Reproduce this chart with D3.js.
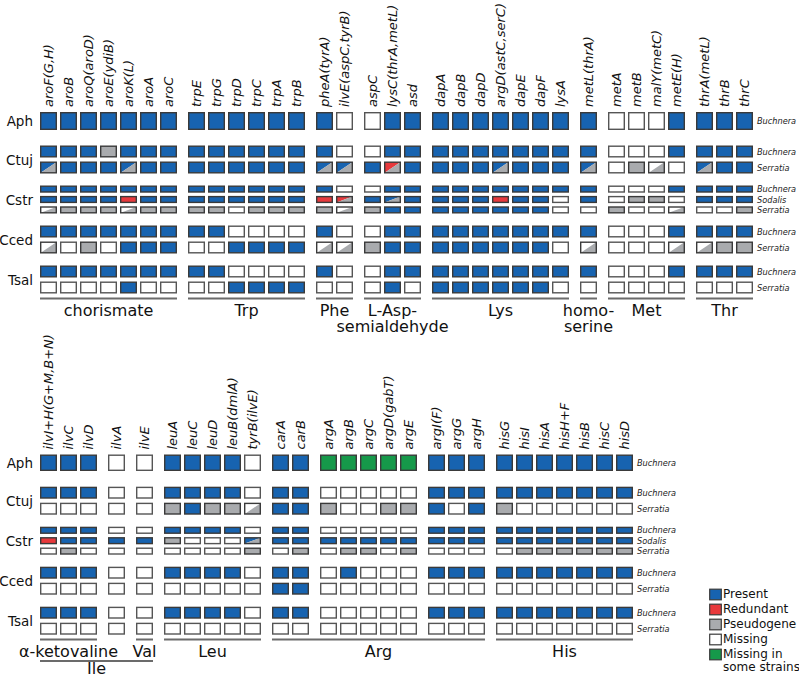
<!DOCTYPE html>
<html><head><meta charset="utf-8">
<script src="https://cdn.jsdelivr.net/npm/d3@7"></script>
<style>body{margin:0;background:#fff} text{font-family:"DejaVu Sans",sans-serif}</style>
</head><body><svg id="c" width="799" height="677"></svg>
<script>
// ---------- DATA ----------
const species = ["Aph","Ctuj","Cstr","Cced","Tsal"];
const partners = [["Buchnera"],["Buchnera","Serratia"],["Buchnera","Sodalis","Serratia"],["Buchnera","Serratia"],["Buchnera","Serratia"]];

const topBlocks = [
  ["aroF(G,H)","aroB","aroQ(aroD)","aroE(ydiB)","aroK(L)","aroA","aroC"],
  ["trpE","trpG","trpD","trpC","trpA","trpB"],
  ["pheA(tyrA)","ilvE(aspC,tyrB)"],
  ["aspC","lysC(thrA,metL)","asd"],
  ["dapA","dapB","dapD","argD(astC,serC)","dapE","dapF","lysA"],
  ["metL(thrA)"],
  ["metA","metB","malY(metC)","metE(H)"],
  ["thrA(metL)","thrB","thrC"]
];
const topPathways = [
  {label:["chorismate"], first:"aroF(G,H)", last:"aroC", level:0},
  {label:["Trp"], first:"trpE", last:"trpB", level:0},
  {label:["Phe"], first:"pheA(tyrA)", last:"ilvE(aspC,tyrB)", level:0},
  {label:["L-Asp-","semialdehyde"], first:"aspC", last:"asd", level:0},
  {label:["Lys"], first:"dapA", last:"lysA", level:0},
  {label:["homo-","serine"], first:"metL(thrA)", last:"metL(thrA)", level:0},
  {label:["Met"], first:"metA", last:"metE(H)", level:0},
  {label:["Thr"], first:"thrA(metL)", last:"thrC", level:0}
];
// codes: P present, R redundant, S pseudogene, M missing, G missing in some strains; two letters = upper-left / lower-right split
const topStatus = [
  [ "P P P P P P P  P P P P P P  P M  M P P  P P P P P P P  P  M M M P  P P P" ],
  [ "P P P S P P P  P P P P P P  P M  M P P  P P P P P P P  P  M M M P  P P P",
    "PS P P P PS P P  P P P P P P  PS PS  P RS P  P P P PS P P P  PS  M S MS M  PS P P" ],
  [ "P P P P P P P  P P P P P P  P M  M P P  P P P P P P P  P  M M M P  P P P",
    "P P P P R P P  P P P P P P  R RS  P PS P  P P P R P P M  P  M S S M  P P P",
    "MS S S S MS S S  S S M S S S  S MS  S P P  P P P P P P M  M  S M M MS  M M S" ],
  [ "P P P P P P P  P P M M M M  P M  M P P  P P P P P P P  P  M M M P  P P P",
    "MS M S M P P P  M M P P P P  MS MS  S P P  P P P P P P M  MS  M M M MS  MS S S" ],
  [ "P P P P P P P  P P M M M M  P M  M P P  P P P P P P P  P  M M M P  P P P",
    "M M M M P M M  M M P P P P  M M  M P M  P P P P P P M  M  M M M M  M M M" ]
];

const botBlocks = [
  ["ilvI+H(G+M,B+N)","ilvC","ilvD"],
  ["ilvA"],
  ["ilvE"],
  ["leuA","leuC","leuD","leuB(dmlA)","tyrB(ilvE)"],
  ["carA","carB"],
  ["argA","argB","argC","argD(gabT)","argE"],
  ["argI(F)","argG","argH"],
  ["hisG","hisI","hisA","hisH+F","hisB","hisC","hisD"]
];
const botPathways = [
  {label:["α-ketovaline"], first:"ilvI+H(G+M,B+N)", last:"ilvD", level:0},
  {label:["Val"], first:"ilvE", last:"ilvE", level:0},
  {label:["Leu"], first:"leuA", last:"tyrB(ilvE)", level:0},
  {label:["Arg"], first:"carA", last:"argH", level:0},
  {label:["His"], first:"hisG", last:"hisD", level:0},
  {label:["Ile"], first:"ilvI+H(G+M,B+N)", last:"ilvE", level:1}
];
const botStatus = [
  [ "P P P  M  M  P P P P M  P P  G G G G G  P P P  P P P P P P P" ],
  [ "P P P  M  M  P P P P M  P P  M M M M M  P P P  P P P P P P P",
    "M M M  M  M  S P S S MS  P P  S M M S S  P M P  S M M M M M M" ],
  [ "P P P  M  M  P P P P M  P P  M M M M M  P P P  P P P P P P P",
    "R P P  P  P  S M M M PS  P P  P P P P P  P P P  P P P P P P P",
    "M S M  M  M  M M M M S  M S  M S S M S  M M M  M S S S S S S" ],
  [ "P P P  M  M  P P P P M  P P  M P M M M  P P P  P P P P P P P",
    "M M M  M  M  M M M M M  P P  M M M M M  M M M  M M M M M M M" ],
  [ "P P P  M  M  P P P P M  P P  M M M M M  P P P  P P P P P P P",
    "M M M  M  M  M M M M M  M M  M M M M M  M M M  M M M M M M M" ]
];

const legendItems = [
  {code:"P", label:["Present"]},
  {code:"R", label:["Redundant"]},
  {code:"S", label:["Pseudogene"]},
  {code:"M", label:["Missing"]},
  {code:"G", label:["Missing in","some strains"]}
];

// ---------- STYLE ----------
const colors = {P:"#1763b0", R:"#e8393c", S:"#a9abae", M:"#ffffff", G:"#16994a"};
const strokeCol = "#3a3a3a";
const svg = d3.select("#c");

const cellW = 17, pitch = 20, gapSlots = 0.4;

function drawPanel(blocks, pathways, status, cfg) {
  const genes = [], slot = [];
  blocks.forEach((b, gi) => b.forEach(g => { slot.push(genes.length + gi*gapSlots); genes.push(g); }));
  const maxSlot = d3.max(slot);
  const x = d3.scaleLinear().domain([0, maxSlot]).range([cfg.x0, cfg.x0 + maxSlot*pitch]);
  const gx = g => x(slot[genes.indexOf(g)]);
  const g = svg.append("g");

  const blockTop = i => i === 0 ? cfg.aphTop : cfg.y0 + (i-1)*40;
  const blockH = i => i === 0 ? cfg.aphH : 28;
  const rowY = d3.scaleLinear();

  genes.forEach((gn, j) => {
    g.append("text")
      .attr("transform", `translate(${x(slot[j]) + cellW/2 + 4.7},${cfg.aphTop - 5}) rotate(-90)`)
      .attr("font-size", 13).attr("font-style", "italic").attr("fill", "#111")
      .text(gn);
  });

  species.forEach((sp, i) => {
    const rows = status[i].map(s => s.trim().split(/\s+/));
    const n = rows.length;
    const top = blockTop(i), H = blockH(i);
    const gap = n === 1 ? 0 : (n === 2 ? 4 : 3.2);
    const h = (H - gap*(n-1)) / n;
    rowY.domain([0, Math.max(n-1,1)]).range([top, top + (n-1)*(h+gap)]);
    g.append("text").attr("x", 33).attr("y", top + H/2).attr("text-anchor","end")
      .attr("dominant-baseline","central").attr("font-size", 13.5).attr("fill","#111").text(sp);
    rows.forEach((r, k) => {
      const yy = rowY(k);
      r.forEach((code, j) => {
        const x0 = x(slot[j]) + 0.7, w = cellW - 1.4, y0 = yy + 0.7, hh = h - 1.4;
        if (code.length === 1) {
          g.append("rect").attr("x", x0).attr("y", y0).attr("width", w).attr("height", hh)
            .attr("fill", colors[code]);
        } else {
          g.append("path").attr("d", `M${x0},${y0}L${x0+w},${y0}L${x0},${y0+hh}Z`).attr("fill", colors[code[0]]);
          g.append("path").attr("d", `M${x0+w},${y0}L${x0+w},${y0+hh}L${x0},${y0+hh}Z`).attr("fill", colors[code[1]]);
        }
        g.append("rect").attr("x", x0).attr("y", y0).attr("width", w).attr("height", hh)
          .attr("fill", "none").attr("stroke", code === "M" ? "#555" : strokeCol).attr("stroke-width", 1.4);
      });
      g.append("text").attr("x", x(maxSlot) + cellW + 4).attr("y", yy + h/2)
        .attr("dominant-baseline","central").attr("font-size", 8.2).attr("font-style","italic")
        .attr("fill","#222").text(partners[i][k]);
    });
  });

  pathways.forEach(p => {
    const xa = gx(p.first), xb = gx(p.last) + cellW;
    const ly = cfg.lineY + p.level*21.4;
    g.append("line").attr("x1", xa).attr("x2", xb).attr("y1", ly).attr("y2", ly)
      .attr("stroke", "#6b6b6b").attr("stroke-width", 2);
    const base = ly + (p.level === 0 ? 17.8 : 12.6);
    p.label.forEach((t, li) => {
      g.append("text").attr("x", (xa + xb)/2).attr("y", base + li*15.5)
        .attr("text-anchor","middle").attr("font-size", 16).attr("fill","#111").text(t);
    });
  });
}

drawPanel(topBlocks, topPathways, topStatus, {x0:40, aphTop:112, aphH:18, y0:145.5, lineY:298.5});
drawPanel(botBlocks, botPathways, botStatus, {x0:40, aphTop:454.5, aphH:16.5, y0:486.7, lineY:639.5});

const lg = svg.append("g");
const ly = d3.scaleLinear().domain([0, legendItems.length-1]).range([588.5, 648.5]);
legendItems.forEach((it, i) => {
  lg.append("rect").attr("x", 709.7).attr("y", ly(i)+0.7).attr("width", 11.6).attr("height", 10.6)
    .attr("fill", colors[it.code]).attr("stroke", strokeCol).attr("stroke-width", 1.2);
  it.label.forEach((t, li) => {
    lg.append("text").attr("x", 723).attr("y", ly(i) + 9.8 + li*13).attr("font-size", 12)
      .attr("fill","#111").text(t);
  });
});
</script>
</body></html>
